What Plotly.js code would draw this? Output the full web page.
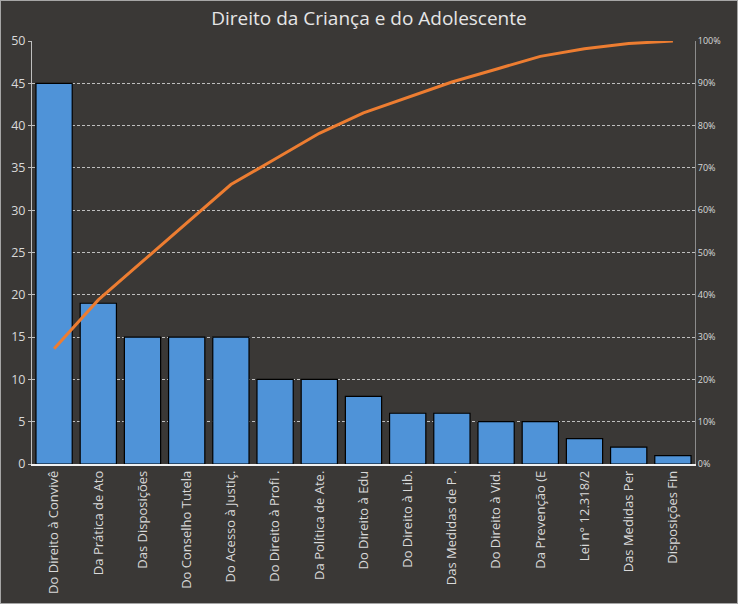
<!DOCTYPE html>
<html><head><meta charset="utf-8">
<script src="https://cdn.plot.ly/plotly-3.0.1.min.js"></script>
<style>html,body{margin:0;padding:0;background:#3a3836;}#c{width:736px;height:602px;border:1px solid #a6a6a6;}</style>
</head><body><div id="c"></div>
<script>
const categories = ["Do Direito à Convivê","Da Prática de Ato","Das Disposições","Do Conselho Tutela","Do Acesso à Justiç.","Do Direito à Profi .","Da Política de Ate.","Do Direito à Edu","Do Direito à Lib.","Das Medidas de P .","Do Direito à Vid.","Da Prevenção (E","Lei n° 12.318/2","Das Medidas Per","Disposições Fin"];
const counts = [45,19,15,15,15,10,10,8,6,6,5,5,3,2,1];
const total = counts.reduce((a,b)=>a+b,0);
let run = 0;
const cumulative = counts.map(v => (run += v) / total);

const txt = '#d9d9d9';
const grid = '#bfbfbf';
Plotly.newPlot('c', [
  {type:'bar', x:categories, y:counts, marker:{color:'#4f93d8', line:{color:'#000', width:1.2}}, hoverinfo:'none'},
  {type:'scatter', mode:'lines', x:categories, y:cumulative, yaxis:'y2', line:{color:'#ed7d31', width:3}, hoverinfo:'none'}
], {
  width:736, height:602,
  paper_bgcolor:'#3a3836', plot_bgcolor:'#3a3836',
  showlegend:false, bargap:0.18,
  margin:{l:31, r:42, t:40, b:139},
  title:{text:'Direito da Criança e do Adolescente', font:{family:'Open Sans, sans-serif', size:19, color:'#e6e6e6'}, x:0.5, y:0.972, yanchor:'middle'},
  font:{family:'Open Sans, sans-serif', color:txt},
  xaxis:{tickangle:-90, tickfont:{size:13, color:txt}, showline:true, linecolor:'#f2f2f2', linewidth:1.5, ticks:'', showgrid:false},
  yaxis:{range:[0,50], dtick:5, tickfont:{size:12.5, color:txt}, showline:true, linecolor:'#bfbfbf', gridcolor:grid, griddash:'3px,2px', gridwidth:1, zeroline:false, ticks:'outside', ticklen:3, tickcolor:'#bfbfbf'},
  yaxis2:{overlaying:'y', side:'right', range:[0,1], dtick:0.1, tickformat:'.0%', tickfont:{size:9, color:txt}, showline:true, linecolor:'#8c8c8c', showgrid:false, zeroline:false, ticks:''}
}, {displayModeBar:false, staticPlot:true});
</script></body></html>
